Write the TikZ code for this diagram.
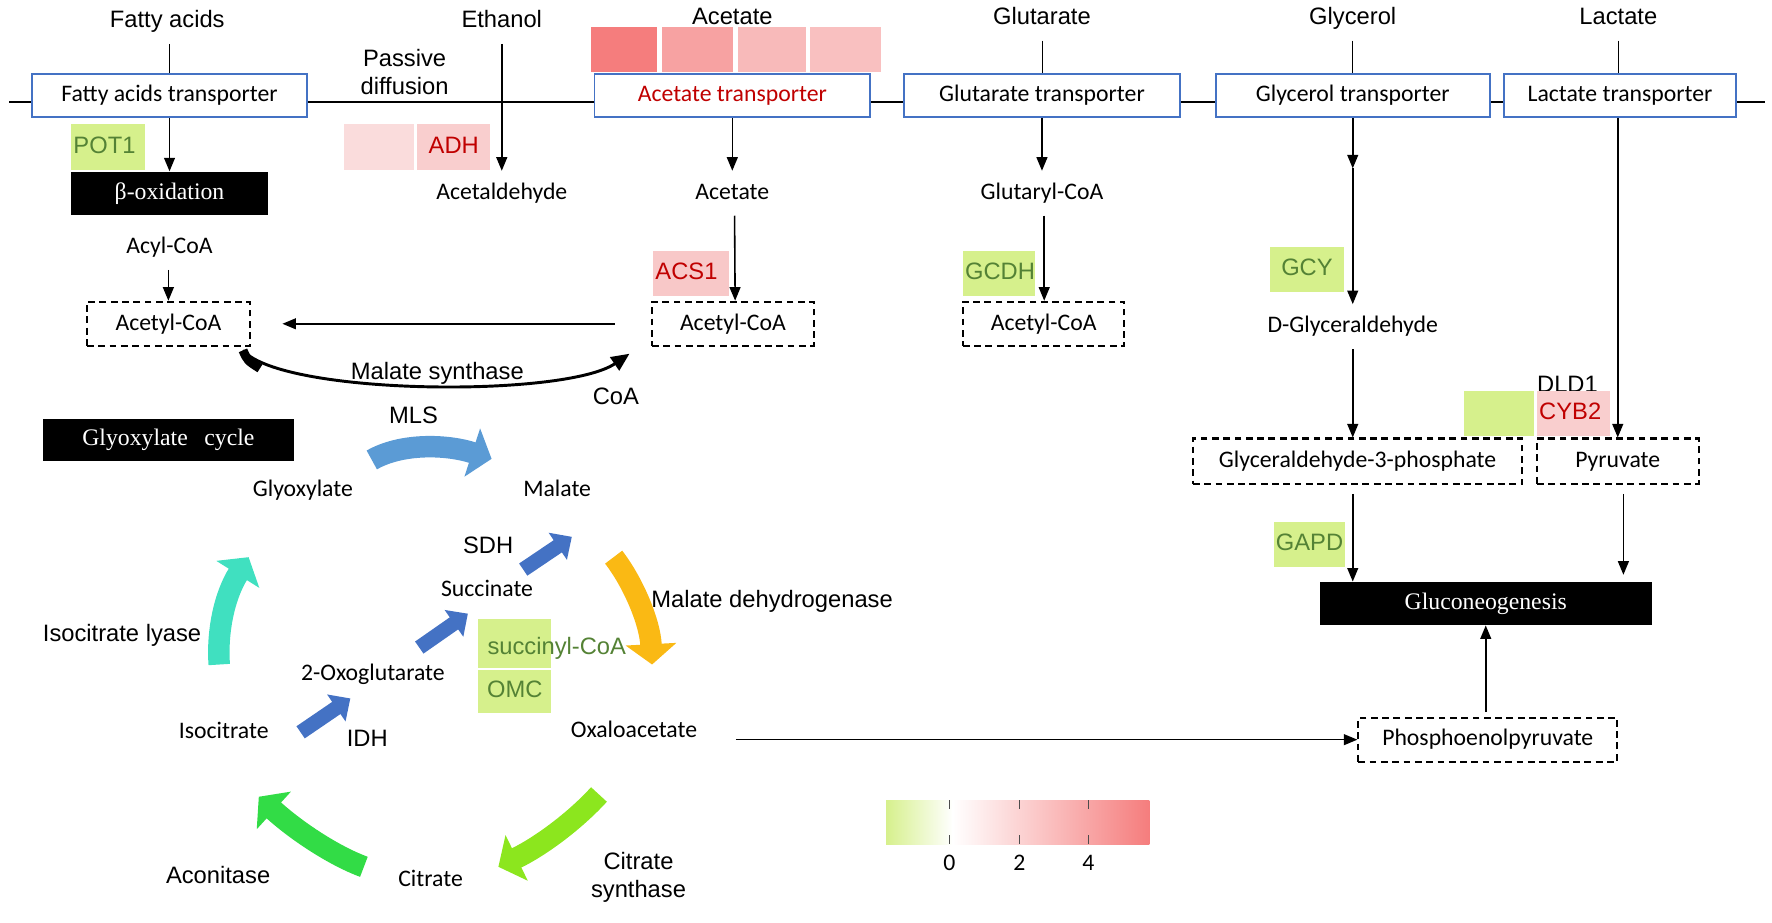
\documentclass[tikz,border=0pt]{standalone}
\usepackage{fontspec}
\setmainfont{Liberation Serif}
\newfontfamily\calibri{Carlito}
\newfontfamily\arialf{Liberation Sans}
\usetikzlibrary{arrows.meta}
\definecolor{upred}{RGB}{192,0,0}
\definecolor{dngreen}{RGB}{84,130,53}
\definecolor{lime}{RGB}{214,240,140}
\definecolor{tblue}{RGB}{68,114,196}
\definecolor{redA}{RGB}{245,125,125}
\definecolor{redB}{RGB}{247,162,162}
\definecolor{redC}{RGB}{248,186,186}
\definecolor{redD}{RGB}{249,192,192}
\definecolor{pinkA}{RGB}{250,220,220}
\definecolor{pinkB}{RGB}{249,206,206}
\definecolor{pinkC}{RGB}{248,200,200}
\definecolor{mlsblue}{RGB}{91,155,213}
\definecolor{darkblue}{RGB}{68,114,196}
\definecolor{mdhorange}{RGB}{250,185,20}
\definecolor{csgreen}{RGB}{140,230,30}
\definecolor{acogreen}{RGB}{50,220,70}
\definecolor{iclteal}{RGB}{64,224,192}
\begin{document}
\begin{tikzpicture}[x=0.5pt,y=-0.5pt,
		mfont/.style={font=\calibri\fontsize{10.5}{12.5}\selectfont, text height=7.5pt, text depth=2pt},
		afont/.style={font=\arialf\fontsize{10.5}{12.5}\selectfont, text height=7.5pt, text depth=2pt},
		met/.style={mfont, inner xsep=2pt, inner ysep=5pt, yshift=-1pt},
		enz/.style={afont, inner xsep=2pt, inner ysep=5pt, yshift=-1pt},
		trans/.style={mfont, draw=tblue, line width=0.8pt, fill=white, minimum height=19pt, inner ysep=0pt},
		pool/.style={mfont, draw, line width=0.9pt, dash pattern=on 3pt off 2pt, minimum height=19.5pt, inner ysep=0pt},
		proc/.style={fill=black, text=white, font=\fontsize{10.5}{12.5}\selectfont, minimum height=19pt, inner sep=0pt},
		cell/.style={afont, minimum height=20pt, inner xsep=1pt, inner ysep=0pt, align=left},
		arr/.style={line width=0.7pt, -{Triangle[length=6pt,width=4.8pt]}},
		bigarr/.style={line width=9.5pt, -{Triangle[length=9pt,width=22pt]}},
		blkarr/.style={line width=6.5pt, darkblue, -{Triangle[length=7.5pt,width=14pt]}}
	]
	\useasboundingbox (0,0) rectangle (1568,816);
	\coordinate (ml) at (8,90);
	\coordinate (mr) at (1562,90);
	\draw[line width=0.8pt] (ml) -- (mr);

	\node[enz] (fa) at (148,17) {Fatty acids};
	\node[enz] (eth) at (444,17) {Ethanol};
	\node[enz] (ac) at (648,14) {Acetate};
	\node[enz] (gl) at (922,14) {Glutarate};
	\node[enz] (gy) at (1197,14) {Glycerol};
	\node[enz] (la) at (1432,14) {Lactate};
	\node[enz, align=center, inner ysep=0pt] (pd) at (358,76) {Passive\\diffusion};

	\foreach \cx/\cw/\cc [count=\i] in {552/29/redA, 617.5/31.5/redB, 683/30/redC, 748.5/31.5/redD}
		\node[cell, fill=\cc, minimum width=\cw pt] (h\i) at (\cx,43.5) {};

	\node[trans, minimum width=122pt] (ft) at (150,84.5) {Fatty acids transporter};
	\node[trans, minimum width=122pt, text=upred] (at) at (648,84.5) {Acetate transporter};
	\node[trans, minimum width=121.8pt] (gt) at (922,84.5) {Glutarate transporter};
	\node[trans, minimum width=121.3pt] (yt) at (1197,84.5) {Glycerol transporter};
	\node[trans, minimum width=102.7pt] (lt) at (1433.5,84.5) {Lactate transporter};
	\draw (fa.south -| ft.north) -- (ft.north);
	\draw (gl.south) -- (gl.south |- gt.north);
	\draw (gy.south) -- (gy.south |- yt.north);
	\draw (la.south) -- (la.south |- lt.north);

	\node[cell, fill=lime, text=dngreen, text width=30.5pt] (pot) at (95.5,130) {POT1};
	\node[proc, minimum width=87pt] (beta) at (150,171) {β-oxidation};
	\node[met] (acyl) at (150,217) {Acyl-CoA};
	\node[pool, minimum width=72pt] (acoa1) at (149,286.5) {Acetyl-CoA};
	\draw[arr] (ft) -- (beta);
	\draw[arr] (acyl.south -| acoa1.north) -- (acoa1.north);

	\node[cell, fill=pinkA, minimum width=31pt] (adh0) at (335,130) {};
	\node[cell, fill=pinkB, text=upred, text width=30.5pt, align=center] (adh) at (401.5,130) {ADH};
	\node[met] (ald) at (444,169) {Acetaldehyde};
	\draw[arr] (eth.south) -- (ald.north);

	\node[met] (acet) at (648,169) {Acetate};
	\node[cell, fill=pinkC, text=upred, text width=31.5pt] (acs) at (611.5,242) {ACS1};
	\node[pool, minimum width=71.5pt] (acoa2) at (648.5,286.5) {Acetyl-CoA};
	\draw[arr] (at) -- (acet);
	\draw[arr] ([xshift=1pt]acet.south) -- ([xshift=1pt]acoa2.north);
	\draw[arr, shorten <=16pt, shorten >=14pt] (acoa2) -- (acoa1);

	\coordinate (msa) at (215,310);
	\coordinate (msb) at (557,313);
	\draw[line width=4pt] (msa) .. controls (219,319) .. (230,326);
	\draw[line width=1.3pt, -{Triangle[length=8pt,width=7pt]}] (msa) .. controls (250,350) and (500,352) .. (msb);
	\node[enz] (ms) at (387,328) {Malate synthase};
	\node[enz] (coa) at (545,350) {CoA};

	\node[met] (gcoa) at (922,169) {Glutaryl-CoA};
	\node[cell, fill=lime, text=dngreen, text width=30pt] (gcdh) at (884,242) {GCDH};
	\node[pool, minimum width=71.5pt] (acoa3) at (923.5,286.5) {Acetyl-CoA};
	\draw[arr] (gt) -- (gcoa);
	\draw[arr] ([xshift=1pt]gcoa.south) -- ([xshift=1pt]gcoa.south |- acoa3.north);

	\coordinate (ymid) at (1197,149);
	\node[cell, fill=lime, text=dngreen, text width=30.5pt, align=center] (gcy) at (1156.5,238.5) {GCY};
	\node[met] (dgly) at (1197,287) {D-Glyceraldehyde};
	\node[pool, minimum width=145.7pt, minimum height=20pt] (g3p) at (1201.3,408) {Glyceraldehyde-3-phosphate};
	\draw[arr] (yt) -- (ymid);
	\draw[arr] (ymid) -- (dgly);
	\draw[arr] (dgly.south) -- (dgly.south |- g3p.north);

	\node[enz] (dld) at (1387,340) {DLD1};
	\node[cell, fill=lime, minimum width=31pt] (dld0) at (1326,366) {};
	\node[cell, fill=pinkB, text=upred, text width=30.5pt] (cyb) at (1392.5,366) {CYB2};
	\node[pool, minimum width=71.5pt, minimum height=20pt] (pyr) at (1431.5,408) {Pyruvate};
	\draw[arr] (lt.south -| pyr.north) -- (pyr.north);

	\node[cell, fill=lime, text=dngreen, text width=29.5pt] (gapd) at (1158.5,482) {GAPD};
	\node[proc, minimum width=146.7pt] (glu) at (1314.7,534) {Gluconeogenesis};
	\draw[arr, shorten <=4pt] (g3p.south -| dgly.south) -- (glu.north -| dgly.south);
	\draw[arr, shorten <=4pt, shorten >=3pt] ([xshift=2.5pt]pyr.south) -- ([xshift=2.5pt]pyr.south |- glu.north);

	\node[pool, minimum width=114.5pt] (pep) at (1316.5,654.5) {Phosphoenolpyruvate};
	\draw[arr, shorten <=2pt] (glu.south |- pep.north) -- (glu.south);

	\node[proc, minimum width=111pt, minimum height=18.5pt] (gly) at (149,389.5) {Glyoxylate\hspace{0.45em} cycle};

	\draw[bigarr, mlsblue] (329,407) .. controls (355,392) and (395,393) .. (435,406);
	\draw[bigarr, iclteal] (194,588) .. controls (192,560) and (198,528) .. (220,493);
	\draw[bigarr, mdhorange] (543,493) .. controls (560,515) and (575,550) .. (577,588);
	\draw[bigarr, csgreen] (530,703) .. controls (510,725) and (480,748) .. (441,767);
	\draw[bigarr, acogreen] (322,767) .. controls (295,757) and (262,735) .. (229,705);
	\draw[blkarr] (463,504) -- (506,475);
	\draw[blkarr] (371,573) -- (414,543);
	\draw[blkarr] (266,648) -- (310,618);

	\node[enz] (mls) at (366,367) {MLS};
	\node[met] (glx) at (268,432) {Glyoxylate};
	\node[met] (mal) at (493,432) {Malate};
	\node[enz] (sdh) at (432,482) {SDH};
	\node[met] (suc) at (431,520) {Succinate};
	\node[enz, anchor=west] (mdh) at (572,530) {Malate dehydrogenase};
	\node[cell, fill=lime, minimum width=32.5pt, minimum height=21.5pt] (scoa) at (455.5,569.5) {};
	\node[enz, text=dngreen, anchor=west] (scoat) at (427,572) {succinyl-CoA};
	\node[cell, fill=lime, text=dngreen, text width=30.5pt, align=center, minimum height=19pt] (omc) at (455.5,612) {OMC};
	\node[met] (oxg) at (330,595) {2-Oxoglutarate};
	\node[enz] (icl) at (108,560) {Isocitrate lyase};
	\node[met] (ici) at (198,646) {Isocitrate};
	\node[enz] (idh) at (325,653) {IDH};
	\node[met] (oxa) at (561,645) {Oxaloacetate};
	\node[enz] (aco) at (193,774) {Aconitase};
	\node[met] (cit) at (381,777) {Citrate};
	\node[enz, align=center, inner ysep=0pt] (cs) at (565,787) {Citrate\\synthase};
	\draw[arr, shorten <=15pt] (oxa.east |- pep.west) -- (pep.west);

	\shade[left color=lime, right color=white] (784,708) rectangle (843,747);
	\shade[left color=white, right color=redA] (843,708) rectangle (1017,747);
	\foreach \t/\l in {840/0, 902/2, 963/4} {
		\draw[line width=0.5pt, black!70] (\t,708) -- (\t,716);
		\draw[line width=0.5pt, black!70] (\t,739) -- (\t,747);
		\node[met] (lg\l) at (\t,763) {\l};
	}
\end{tikzpicture}
\end{document}
